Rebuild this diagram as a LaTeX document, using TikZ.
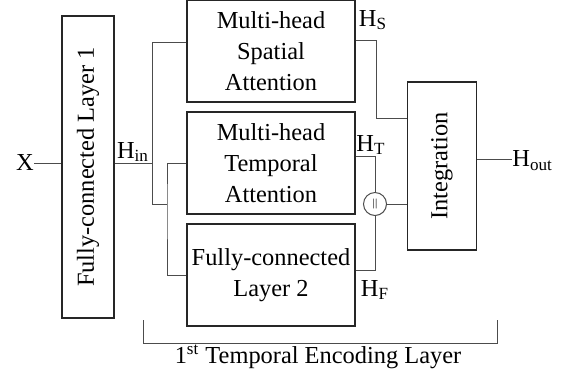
\documentclass[tikz,border=0pt]{standalone}
\usepackage{fontspec}
\setmainfont{Liberation Serif}
\usetikzlibrary{positioning,calc}
\tikzset{
	blockbox/.style={draw=black!85, line width=0.6pt, minimum width=84pt, minimum height=51pt, align=center, inner sep=0pt},
	tallbox/.style={draw=black!85, line width=0.6pt, inner sep=0pt, rotate=90},
	wire/.style={draw=black!70, line width=0.5pt},
	lbl/.style={inner sep=0pt},
}
\newcommand{\mybox}[4][]
{
	% three equal blocks in the middle column
	\node [blockbox] (#1) at (#2, #3) {#4};
}
\begin{document}
\begin{tikzpicture}[x=0.5pt, y=-0.5pt, font=\fontsize{12.2}{15.5}\selectfont]
		\useasboundingbox (0,0) rectangle (572,377);
		\node [lbl] (x) at (25,163) {X};
		\node [tallbox, minimum width=151pt, minimum height=26pt] (fc1) at (88,167) {Fully-connected Layer 1};
		\mybox[msa]{271}{51}{Multi-head\\Spatial\\Attention}
		\mybox[mta]{271}{163}{Multi-head\\Temporal\\Attention}
		\mybox[fc2]{271}{275}{Fully-connected\\Layer 2}
		\node [tallbox, minimum width=84pt, minimum height=34.5pt] (integ) at (442,166) {Integration};
		\node [circle, draw=black!70, line width=0.5pt, minimum size=11.5pt, inner sep=0pt] (cat) at (375,204) {\tiny$\parallel$};
		\node [lbl] (hin) at (133,152) {H\textsubscript{in}};
		\node [lbl] (hs) at (373,20) {H\textsubscript{S}};
		\node [lbl] (ht) at (371,145) {H\textsubscript{T}};
		\node [lbl] (hf) at (375,290) {H\textsubscript{F}};
		\node [lbl, anchor=west, text depth=0pt] (hout) at (512,159) {H\textsubscript{out}};
		\node [lbl] (enc) at (318,357) {1\textsuperscript{st} Temporal Encoding Layer};
		% bends of the connectors
		\coordinate (j0) at (152,163);
		\coordinate (j1) at (152,204);
		\coordinate (j2) at (167,204);
		\coordinate (k1) at (376,118);
		\coordinate (bl) at (143,320);
		\coordinate (br) at (497,320);
		% rotated boxes: north is the left side, south the right side
		\draw [wire] (x) -- (x -| fc1.north);
		\draw [wire] (x -| fc1.south) -- (j0);
		\draw [wire] ([yshift=4.5pt]msa.west) -| (j1) -- (j2);
		\draw [wire] (mta.west) -| (j2) |- (fc2.west);
		\draw [wire] ([yshift=5.5pt]msa.east) -| (k1) -- (k1 -| integ.north);
		\draw [wire] ([yshift=3.5pt]mta.east) -| (cat.north);
		\draw [wire] ([yshift=2.5pt]fc2.east) -| (cat.south);
		\draw [wire] (cat.east) -- (cat.east -| integ.north);
		\draw [wire] (hout.west -| integ.south) -- (hout.west);
		\draw [wire] (bl) -- ++(0,23) -| (br);
\end{tikzpicture}
\end{document}
